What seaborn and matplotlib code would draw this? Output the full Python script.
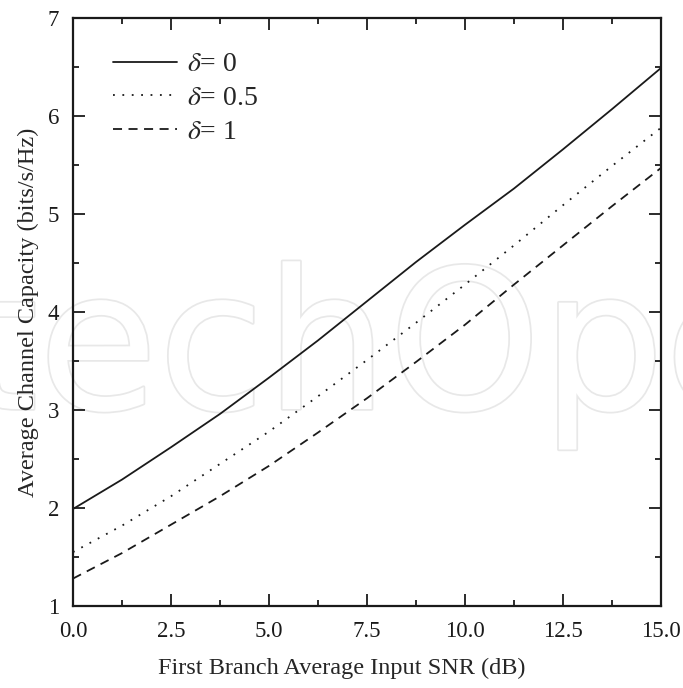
import numpy as np
import pandas as pd
import seaborn as sns
import matplotlib
matplotlib.use("Agg")
import matplotlib.pyplot as plt
from matplotlib.ticker import MultipleLocator
import matplotlib.patheffects as pe

# ---- data ----
snr_db = [0.0, 1.25, 2.5, 3.75, 5.0, 6.25, 7.5, 8.75, 10.0, 11.25, 12.5, 13.75, 15.0]
cap_delta_0 = [1.99, 2.29, 2.62, 2.96, 3.33, 3.71, 4.11, 4.51, 4.89, 5.26, 5.66, 6.07, 6.49]
cap_delta_05 = [1.55, 1.82, 2.12, 2.45, 2.78, 3.14, 3.51, 3.89, 4.28, 4.68, 5.09, 5.49, 5.88]
cap_delta_1 = [1.28, 1.54, 1.83, 2.12, 2.43, 2.77, 3.12, 3.49, 3.87, 4.28, 4.68, 5.08, 5.47]
series_labels = [r"$\delta$= 0", r"$\delta$= 0.5", r"$\delta$= 1"]
x_ticks = [0.0, 2.5, 5.0, 7.5, 10.0, 12.5, 15.0]
y_ticks = [1, 2, 3, 4, 5, 6, 7]
x_label = "First Branch Average Input SNR (dB)"
y_label = "Average Channel Capacity (bits/s/Hz)"
watermark = "IntechOpen"

df = pd.DataFrame({
    "snr": snr_db * 3,
    "cap": cap_delta_0 + cap_delta_05 + cap_delta_1,
    "series": [series_labels[0]] * len(snr_db) + [series_labels[1]] * len(snr_db) + [series_labels[2]] * len(snr_db),
})

sns.set_style("ticks")
plt.rcParams["font.family"] = ["Liberation Serif", "DejaVu Serif"]
plt.rcParams["mathtext.fontset"] = "stix"

fig = plt.figure(figsize=(6.83, 6.88), dpi=100)
ax = fig.add_axes([73 / 683, 82 / 688, 588 / 683, 588 / 688])

# faint watermark behind the data
ax.text(0.462, 0.335, watermark, transform=ax.transAxes, fontsize=140,
        family="DejaVu Sans", color="white", ha="center", va="baseline", zorder=0,
        path_effects=[pe.withStroke(linewidth=2.5, foreground="#e8e8e8")])

styles = {
    series_labels[0]: None,
    series_labels[1]: (1.0, 4.2),
    series_labels[2]: (5.0, 3.6),
}
for lab in series_labels:
    sub = df[df["series"] == lab]
    sns.lineplot(data=sub, x="snr", y="cap", ax=ax, color="#1a1a1a",
                 linewidth=1.3, label=lab, zorder=3)
    if styles[lab] is not None:
        ax.lines[-1].set_dashes(styles[lab])

ax.set_xlim(0, 15)
ax.set_ylim(1, 7)
ax.set_xticks(x_ticks)
ax.set_xticklabels([f"{v:.1f}" for v in x_ticks])
ax.set_yticks(y_ticks)
ax.xaxis.set_minor_locator(MultipleLocator(1.25))
ax.yaxis.set_minor_locator(MultipleLocator(0.5))
ax.tick_params(which="both", direction="in", top=True, right=True, width=1.3, colors="#1a1a1a")
ax.tick_params(which="major", length=8.5, labelsize=16.5)
ax.tick_params(axis="x", which="major", pad=11)
ax.tick_params(axis="y", which="major", pad=10)
ax.tick_params(which="minor", length=4)
for s in ax.spines.values():
    s.set_linewidth(1.6)
    s.set_color("#1a1a1a")
    s.set_zorder(4)

ax.set_xlabel(x_label, fontsize=17.5)
ax.xaxis.set_label_coords(0.457, -0.088)
ax.set_ylabel(y_label, fontsize=17.5, labelpad=6)

handles, labels = ax.get_legend_handles_labels()
for h, lab in zip(handles, labels):
    if styles[lab] is not None:
        h.set_dashes(styles[lab])
ax.legend(handles, labels, loc="upper left", bbox_to_anchor=(0.026, 0.985),
          frameon=False, fontsize=20, handlelength=2.3, handletextpad=0.35,
          labelspacing=0.3)

fig.savefig("out.png", dpi=100)
